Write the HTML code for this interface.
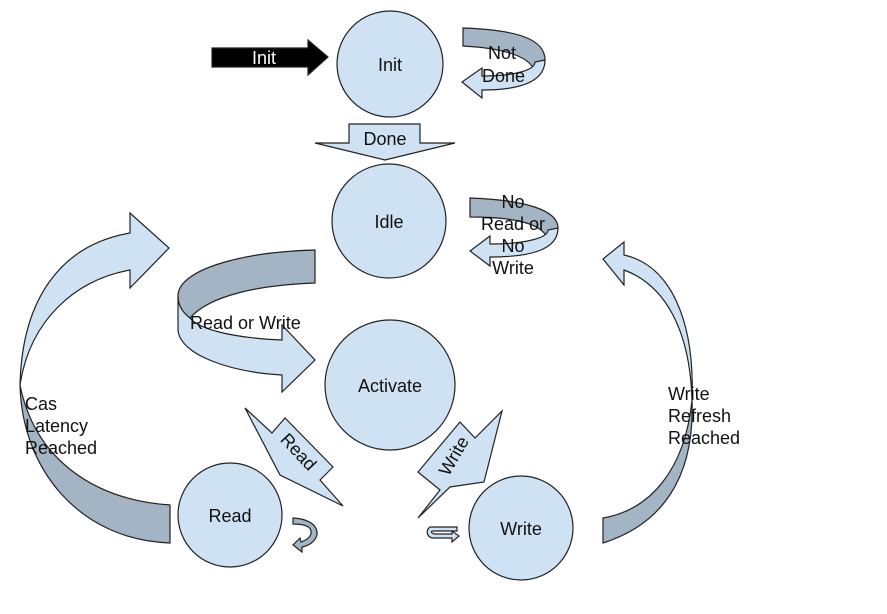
<!DOCTYPE html>
<html><head><meta charset="utf-8"><style>
html,body{margin:0;padding:0;background:#fff;width:887px;height:614px;overflow:hidden}
text{font-family:"Liberation Sans",sans-serif;font-size:18px;fill:#111}
</style></head><body>
<svg width="887" height="614" viewBox="0 0 887 614" xmlns="http://www.w3.org/2000/svg">
<g stroke="#222" stroke-width="1.2">
<circle cx="390" cy="64" r="53" fill="#cfe2f3"/>
<circle cx="389" cy="221" r="57" fill="#cfe2f3"/>
<circle cx="390" cy="385" r="65" fill="#cfe2f3"/>
<circle cx="230" cy="515" r="52" fill="#cfe2f3"/>
<circle cx="521" cy="528" r="52" fill="#cfe2f3"/>
<polygon points="212,48 308,48 308,40 328,57 308,75 308,67 212,67" fill="#000"/>
<polygon points="349,124 420,124 420,143 455,143 385,160 315,143 349,143" fill="#cfe2f3"/>
<path d="M463,28 C520,30 545,40 545,60 C545,65 540,70 535,72 C530,55 500,48 463,46 Z" fill="#a3b4c4"/>
<path d="M545,60 C545,82 520,90 482,90 L482,98 L462,82 L482,68 L482,76 C515,76 535,70 535,62 Z" fill="#cfe2f3"/>
<path d="M470,198 C525,200 558,210 558,228 C558,233 553,238 548,240 C543,222 510,217 470,217 Z" fill="#a3b4c4"/>
<path d="M558,228 C558,250 530,257 490,257 L490,266 L470,251 L490,236 L490,244 C525,244 548,238 548,230 Z" fill="#cfe2f3"/>
<path d="M315,250 L315,283 C260,285 210,295 190,318 C180,312 178,305 178,296 C178,270 240,252 315,250 Z" fill="#a3b4c4"/>
<path d="M178,296 L178,330 C180,355 230,372 282,375 L282,392 L315,360 L282,325 L282,340 C235,338 200,330 190,318 C182,312 178,305 178,296 Z" fill="#cfe2f3"/>
<path d="M20,385 C22,300 60,245 130,233 L130,213 L169,248 L130,288 L130,270 C75,280 30,320 20,385 Z" fill="#cfe2f3"/>
<path d="M20,385 C22,470 80,540 170,543 L170,505 C95,500 35,460 20,385 Z" fill="#a3b4c4"/>
<path d="M692,400 C690,330 665,285 624,270 L624,285 L603,259 L624,242 L624,255 C670,265 695,320 692,400 Z" fill="#cfe2f3"/>
<path d="M692,400 C695,480 660,525 603,543 L603,518 C650,510 685,470 692,400 Z" fill="#a3b4c4"/>
<polygon points="245,408 272,433 285,418 333,467 320,480 343,506 280,475" fill="#cfe2f3"/>
<polygon points="502,411 484,482 450,487 418,518 440,490 418,472 460,422 475,438" fill="#cfe2f3"/>
<path d="M293,518 C310,519 318,526 317,535 C315,542 308,546 302,547 L302,552 L293,545 L300,538 L301,542 C307,540 312,536 311,531 C310,526 303,524 293,524 Z" fill="#a3b4c4"/>
<path d="M457,527 L430,527 C426,530 426,536 432,538 L452,538 L452,542 L459,536 L452,531 L452,534 L434,534 C430,532 431,531 434,531 L457,531 Z" fill="#cfe2f3"/>
</g>
<g>
<text x="252" y="64" style="fill:#fff">Init</text>
<text x="390" y="71" text-anchor="middle">Init</text>
<text x="385" y="145" text-anchor="middle">Done</text>
<text x="389" y="228" text-anchor="middle">Idle</text>
<text x="390" y="392" text-anchor="middle">Activate</text>
<text x="230" y="522" text-anchor="middle">Read</text>
<text x="521" y="535" text-anchor="middle">Write</text>
<text x="488" y="59">Not</text>
<text x="482" y="82">Done</text>
<text x="513" y="208" text-anchor="middle">No</text>
<text x="513" y="230" text-anchor="middle">Read or</text>
<text x="513" y="252" text-anchor="middle">No</text>
<text x="513" y="274" text-anchor="middle">Write</text>
<text x="190" y="329">Read or Write</text>
<text x="25" y="410">Cas</text>
<text x="25" y="432">Latency</text>
<text x="25" y="454">Reached</text>
<text x="668" y="400">Write</text>
<text x="668" y="422">Refresh</text>
<text x="668" y="444">Reached</text>
<text transform="translate(294,456) rotate(47)" text-anchor="middle">Read</text>
<text transform="translate(459,459) rotate(-60)" text-anchor="middle">Write</text>
</g>
</svg>
</body></html>
